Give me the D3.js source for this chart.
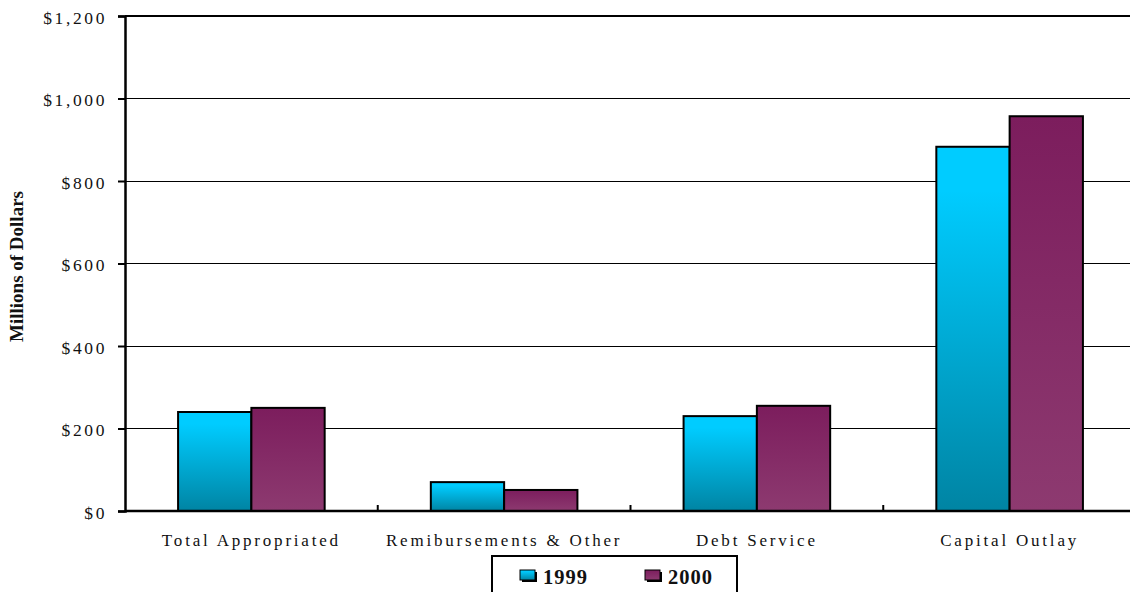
<!DOCTYPE html>
<html>
<head>
<meta charset="utf-8">
<script src="https://cdn.jsdelivr.net/npm/d3@7"></script>
<style>
  html, body { margin: 0; padding: 0; background: #fff; }
  svg { display: block; }
  text { font-family: "Liberation Serif", "Times New Roman", serif; fill: #111; }
</style>
</head>
<body>
<svg id="chart" width="1130" height="592"></svg>
<script>
// Budget categories and appropriations (millions of dollars)
const categories = ["Total Appropriated", "Remibursements & Other", "Debt Service", "Capital Outlay"];
const seriesNames = ["1999", "2000"];
const values1999 = [240, 70, 230, 883];
const values2000 = [250, 51, 255, 957];
const yTicks = [0, 200, 400, 600, 800, 1000, 1200];

const seriesValues = { "1999": values1999, "2000": values2000 };

const svg = d3.select("#chart");
const margin = { left: 125, right: -6, top: 16, bottom: 81 };
const W = 1130, H = 592;
const plotLeft = margin.left, plotRight = W - margin.right;
const plotTop = margin.top, plotBottom = H - margin.bottom;

// Vertical gradients for the two series
const defs = svg.append("defs");
const gCyan = defs.append("linearGradient").attr("id", "grad1999")
  .attr("x1", 0).attr("y1", 0).attr("x2", 0).attr("y2", 1);
gCyan.append("stop").attr("offset", "0%").attr("stop-color", "#00CCFF");
gCyan.append("stop").attr("offset", "12%").attr("stop-color", "#00CCFF");
gCyan.append("stop").attr("offset", "100%").attr("stop-color", "#0084A3");
const gPurple = defs.append("linearGradient").attr("id", "grad2000")
  .attr("x1", 0).attr("y1", 0).attr("x2", 0).attr("y2", 1);
gPurple.append("stop").attr("offset", "0%").attr("stop-color", "#7C1D5D");
gPurple.append("stop").attr("offset", "100%").attr("stop-color", "#8D3A70");
const fills = { "1999": "url(#grad1999)", "2000": "url(#grad2000)" };

const y = d3.scaleLinear().domain([0, 1200]).range([plotBottom, plotTop]);
const x0 = d3.scaleBand().domain(categories).range([plotLeft, plotRight]).padding(0);
const gap = x0.bandwidth() * 0.21;
const x1 = d3.scaleBand().domain(seriesNames).range([gap, x0.bandwidth() - gap]).padding(0);

// Horizontal gridlines
svg.append("g")
  .selectAll("line")
  .data(yTicks.filter(d => d > 0 && d < 1200))
  .join("line")
  .attr("x1", plotLeft).attr("x2", plotRight)
  .attr("y1", d => y(d)).attr("y2", d => y(d))
  .attr("stroke", "#000").attr("stroke-width", 1).attr("shape-rendering", "crispEdges");

// Top border
svg.append("line")
  .attr("x1", plotLeft).attr("x2", plotRight)
  .attr("y1", y(1200)).attr("y2", y(1200))
  .attr("stroke", "#000").attr("stroke-width", 2);

// Bars
const groups = svg.append("g")
  .selectAll("g")
  .data(categories)
  .join("g")
  .attr("transform", d => `translate(${x0(d)},0)`);

groups.selectAll("rect")
  .data((c, i) => seriesNames.map(s => ({ s, v: seriesValues[s][i] })))
  .join("rect")
  .attr("x", d => x1(d.s))
  .attr("y", d => y(d.v))
  .attr("width", x1.bandwidth())
  .attr("height", d => y(0) - y(d.v))
  .attr("fill", d => fills[d.s])
  .attr("stroke", "#000")
  .attr("stroke-width", 2);

// Y axis
const yAxis = d3.axisLeft(y).tickValues(yTicks).tickSize(7).tickPadding(11)
  .tickFormat(d => "$" + d3.format(",")(d));
const yg = svg.append("g").attr("transform", `translate(${plotLeft},0)`).call(yAxis);
yg.select(".domain").attr("stroke", "#000").attr("stroke-width", 2.5);
yg.selectAll(".tick line").attr("stroke", "#000").attr("stroke-width", 2);
yg.selectAll(".tick text")
  .attr("font-size", 17.5)
  .attr("letter-spacing", "2.6px")
  .attr("dy", "0.42em")
  .style("font-family", "'Liberation Serif', serif")
  .attr("fill", "#222");

// X axis line and boundary ticks
svg.append("line")
  .attr("x1", plotLeft).attr("x2", plotRight)
  .attr("y1", y(0)).attr("y2", y(0))
  .attr("stroke", "#000").attr("stroke-width", 2.5);
svg.append("g")
  .selectAll("line")
  .data(categories.slice(1))
  .join("line")
  .attr("x1", d => x0(d)).attr("x2", d => x0(d))
  .attr("y1", y(0)).attr("y2", y(0) - 6)
  .attr("stroke", "#000").attr("stroke-width", 2);

// Category labels
svg.append("g")
  .selectAll("text")
  .data(categories)
  .join("text")
  .attr("x", d => x0(d) + x0.bandwidth() / 2)
  .attr("y", plotBottom + 35)
  .attr("text-anchor", "middle")
  .attr("font-size", 17)
  .attr("letter-spacing", "2.8px")
  .attr("fill", "#222")
  .text(d => d);

// Y axis title
svg.append("text")
  .attr("transform", `translate(23,${(plotTop + plotBottom) / 2 + 3}) rotate(-90)`)
  .attr("text-anchor", "middle")
  .attr("font-size", 19)
  .attr("font-weight", "bold")
  .attr("fill", "#000")
  .text("Millions of Dollars");

// Legend
const legend = svg.append("g");
legend.append("rect")
  .attr("x", 492).attr("y", 556).attr("width", 245).attr("height", 50)
  .attr("fill", "#fff").attr("stroke", "#000").attr("stroke-width", 2);
const legendItems = [{ s: "1999", x: 520 }, { s: "2000", x: 645 }];
legendItems.forEach(item => {
  legend.append("rect")
    .attr("x", item.x + 2).attr("y", 572).attr("width", 15).attr("height", 10)
    .attr("fill", "#000");
  legend.append("rect")
    .attr("x", item.x).attr("y", 570).attr("width", 15).attr("height", 10)
    .attr("fill", fills[item.s]).attr("stroke", "#000").attr("stroke-width", 1);
  legend.append("text")
    .attr("x", item.x + 23).attr("y", 584)
    .attr("font-size", 20.5)
    .attr("font-weight", "bold")
    .attr("letter-spacing", "1px")
    .attr("fill", "#000")
    .text(item.s);
});
</script>
</body>
</html>
